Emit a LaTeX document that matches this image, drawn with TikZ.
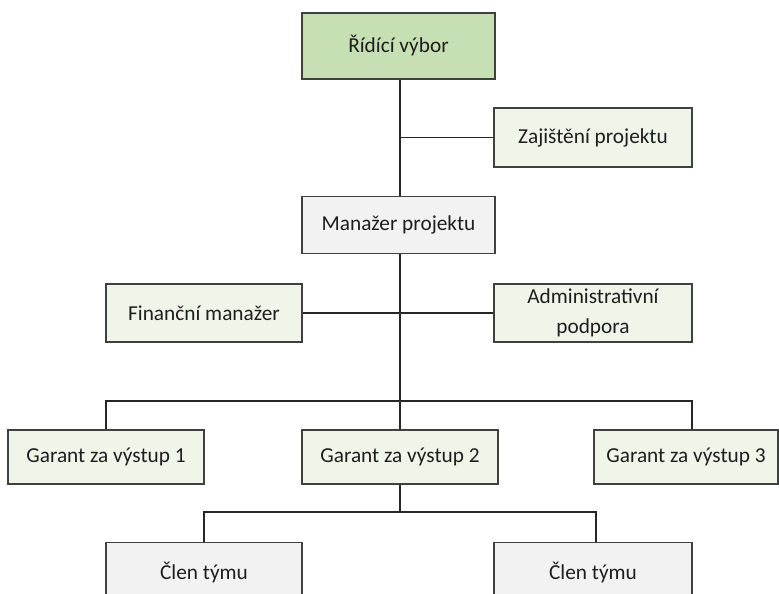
\documentclass[tikz,border=0pt]{standalone}
\usepackage{fontspec}
\setmainfont{Carlito}
\definecolor{boxgreen}{HTML}{C6E0B4}
\definecolor{boxlight}{HTML}{F0F5EA}
\definecolor{boxgray}{HTML}{F2F2F2}
\definecolor{boxline}{HTML}{404040}
\definecolor{txt}{HTML}{1E1E1E}
\begin{document}
\begin{tikzpicture}[x=1pt,y=-1pt,
  orgbox/.style={draw=boxline, line width=1.2pt, inner sep=0pt, align=center,
    text=txt, font=\fontsize{21.3}{30}\selectfont},
  conn/.style={draw=black!85, line width=1.1pt}]
\clip (0,0) rectangle (779,594);
\fill[white] (0,0) rectangle (779,594);
% boxes
\node[orgbox, fill=boxgreen, minimum width=193pt, minimum height=66pt] (R) at (398.5,46) {Řídící výbor};
\node[orgbox, fill=boxlight, minimum width=198pt, minimum height=59pt] (Z) at (593,137.5) {Zajištění projektu};
\node[orgbox, fill=boxgray, minimum width=193pt, minimum height=57pt] (M) at (398.5,225) {Manažer projektu};
\node[orgbox, fill=boxlight, minimum width=196pt, minimum height=58pt] (F) at (204,313) {Finanční manažer};
\node[orgbox, fill=boxlight, minimum width=198pt, minimum height=58pt] (A) at (593,313) {Administrativní\\podpora};
\node[orgbox, fill=boxlight, minimum width=196pt, minimum height=54pt] (G1) at (106,457) {Garant za výstup 1};
\node[orgbox, fill=boxlight, minimum width=196pt, minimum height=54pt] (G2) at (400,457) {Garant za výstup 2};
\node[orgbox, fill=boxlight, minimum width=184pt, minimum height=54pt] (G3) at (686,457) {Garant za výstup 3};
\node[orgbox, fill=boxgray, minimum width=196pt, minimum height=60pt, anchor=north] (C1) at (204,542) {};
\node[orgbox, fill=boxgray, minimum width=198pt, minimum height=60pt, anchor=north] (C2) at (593,542) {};
\node[text=txt, font=\fontsize{21.3}{30}\selectfont, inner sep=0pt] (C1t) at (204,572) {Člen týmu};
\node[text=txt, font=\fontsize{21.3}{30}\selectfont, inner sep=0pt] (C2t) at (593,572) {Člen týmu};
% connector points
\coordinate (t1) at (400,137.5);
\coordinate (t2) at (400,313);
\coordinate (t3) at (400,401);
\coordinate (gl) at (106,401);
\coordinate (gr) at (692,401);
\coordinate (c0) at (400,512);
\coordinate (cl) at (204,512);
\coordinate (cr) at (596,512);
% connectors
\draw[conn] (R.south -| t1) -- (M.north -| t1);
\draw[conn] (t1) -- (Z.west |- t1);
\draw[conn] (M.south -| t1) -- (t3);
\draw[conn] (F.east |- t2) -- (A.west |- t2);
\draw[conn] (gl |- G1.north) -- (gl) -- (gr) -- (gr |- G3.north);
\draw[conn] (t3) -- (G2.north -| t3);
\draw[conn] (G2.south -| c0) -- (c0);
\draw[conn] (cl |- C1.north) -- (cl) -- (cr) -- (cr |- C2.north);
\end{tikzpicture}
\end{document}
